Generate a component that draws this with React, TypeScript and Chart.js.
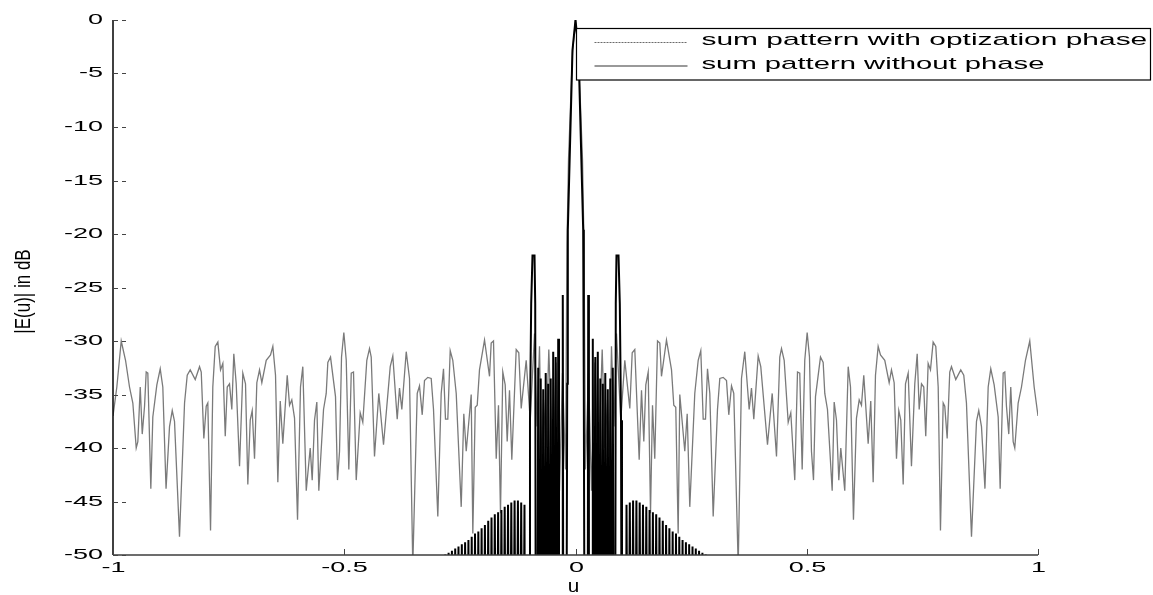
import React, { useEffect, useRef } from 'react';
import { Chart, registerables } from 'chart.js';

Chart.register(...registerables);

const xTickValues = [-1, -0.5, 0, 0.5, 1];
const xTickLabels = ['-1', '-0.5', '0', '0.5', '1'];
const yTickValues = [0, -5, -10, -15, -20, -25, -30, -35, -40, -45, -50];
const yTickLabels = ['0', '-5', '-10', '-15', '-20', '-25', '-30', '-35', '-40', '-45', '-50'];
const xAxisTitle = 'u';
const yAxisTitle = '|E(u)| in dB';
const seriesLabels = ['sum pattern with optization phase', 'sum pattern without phase'];

// Values read for u >= 0; the plotted pattern is symmetric about u = 0.
const optimizedU = [
  0, 0.0065, 0.0151, 0.0184, 0.0216, 0.0281, 0.0346, 0.0422, 0.0486, 0.0577,
  0.0638, 0.0692, 0.0735, 0.0778, 0.0832, 0.0886, 0.0979, 0.1066, 0.1174, 0.1226,
  0.1282, 0.1377, 0.1427, 0.1477, 0.152, 0.1572, 0.1622, 0.1665, 0.1714, 0.1773,
  0.1823, 0.1859, 0.1967, 0.2076, 0.2125, 0.2168, 0.222, 0.2255, 0.2363, 0.2415,
  0.2471, 0.2579, 0.2653, 0.2709, 0.2761, 0.2811, 0.2854, 0.2904, 0.2977, 0.307,
  0.312, 0.3193, 0.3265, 0.3314, 0.3373, 0.3422, 0.3518, 0.3589, 0.366, 0.3755,
  0.3805, 0.3855, 0.395, 0.4006, 0.4151, 0.4253, 0.4346, 0.4417, 0.4454, 0.4512,
  0.4599, 0.4655, 0.4741, 0.48, 0.4849, 0.4901, 0.4957, 0.5009, 0.5059, 0.5102,
  0.5146, 0.5189, 0.5297, 0.5355, 0.539, 0.5448, 0.555, 0.5593, 0.5643, 0.5693,
  0.5736, 0.5822, 0.5896, 0.5946, 0.601, 0.6075, 0.6134, 0.6183, 0.6233, 0.6328,
  0.6384, 0.6436, 0.6486, 0.6544, 0.6594, 0.6687, 0.6782, 0.6832, 0.689, 0.694,
  0.699, 0.7033, 0.7085, 0.7135, 0.7193, 0.7264, 0.7336, 0.7388, 0.7431, 0.7481,
  0.753, 0.7573, 0.7625, 0.7675, 0.7733, 0.779, 0.7842, 0.7891, 0.795, 0.7984,
  0.8036, 0.8092, 0.8129, 0.8222, 0.833, 0.8395, 0.8453, 0.8562, 0.867, 0.8719,
  0.8778, 0.8853, 0.8923, 0.8979, 0.9052, 0.9139, 0.9182, 0.9247, 0.9282, 0.9318,
  0.9368, 0.9411, 0.9463, 0.9498, 0.9571, 0.9643, 0.9729, 0.9822, 0.9917, 1.0,
];
const optimizedDb = [
  0, -3, -13, -21, -42, -33, -44, -32, -43, -30.8,
  -40, -35.5, -42, -30.5, -38, -29.3, -37.4, -31.8, -36.3, -31.1,
  -30.8, -41.1, -34.6, -39.4, -34.1, -32.9, -46.1, -36.0, -41.0, -30.0,
  -30.2, -33.3, -29.9, -32.7, -36.0, -36.2, -48.0, -35.0, -40.3, -36.8,
  -45.5, -34.9, -31.8, -30.9, -37.3, -37.3, -32.6, -34.9, -46.4, -36.4,
  -33.5, -33.4, -33.7, -36.9, -34.2, -34.9, -51, -33.5, -31.0, -36.4,
  -34.4, -37.3, -31.4, -32.4, -39.7, -34.9, -40.8, -31.5, -30.7, -31.8,
  -37.6, -36.7, -43, -32.9, -33.0, -42, -31.8, -29.2, -31.5, -40.3,
  -43, -35.2, -31.5, -32.0, -34.9, -36.4, -44, -35.7, -37.4, -43,
  -40.0, -44, -32.4, -34.3, -46.7, -37.2, -35.5, -36.0, -33.2, -39.6,
  -35.6, -43.2, -33.2, -30.5, -31.3, -31.8, -33.9, -32.7, -33.9, -41.0,
  -36.5, -37.4, -43.4, -34.0, -33.0, -41.7, -34.0, -31.2, -36.4, -34.0,
  -34.3, -38.9, -32.1, -32.7, -30.1, -30.5, -34.3, -47.7, -35.8, -36.1,
  -39.1, -32.9, -32.4, -33.6, -32.7, -33.2, -35.8, -48.3, -37.5, -36.5,
  -38.0, -43.8, -34.3, -32.6, -34.1, -37.1, -43.8, -33.0, -32.9, -36.1,
  -38.7, -34.3, -39.4, -40.0, -35.8, -34.3, -31.8, -30.0, -34.3, -37.0,
];

const plainU = [
  0, 0.0065, 0.0166, 0.0179, 0.0205, 0.0259, 0.0275, 0.029, 0.0357, 0.0374,
  0.0389, 0.0428, 0.0455, 0.0482, 0.0509, 0.0536, 0.0563, 0.059, 0.0617, 0.0644,
  0.0671, 0.0698, 0.0725, 0.0752, 0.0779, 0.0806, 0.0832, 0.0854, 0.0871, 0.0886,
  0.093, 0.0958, 0.0984, 0.1005, 0.1085,
  0.1103, 0.1138, 0.1174, 0.121, 0.1245, 0.1281, 0.1317, 0.1352, 0.1388, 0.1424,
  0.1459, 0.1495, 0.1531, 0.1566, 0.1602, 0.1638, 0.1673, 0.1709, 0.1745, 0.178,
  0.1816, 0.1852, 0.1887, 0.1923, 0.1959, 0.1994, 0.203, 0.2066, 0.2101, 0.2137,
  0.2173, 0.2208, 0.2244, 0.228, 0.2315, 0.2351, 0.2387, 0.2422, 0.2458, 0.2494,
  0.253, 0.2565, 0.2601, 0.2637, 0.2672, 0.2708, 0.2744, 0.2779, 0.2815, 0.2851,
  0.4,
];
const plainDb = [
  0, -2.8, -19.6, -34, -75, -75, -25.7, -75, -75, -29.8,
  -75, -31.5, -75, -31, -75, -33.5, -75, -34, -75, -33,
  -75, -34.5, -75, -33.5, -75, -32.5, -75, -75, -26.5, -22,
  -22, -26.5, -37.4, -75, -75,
  -45.3, -75, -45.1, -75, -44.9, -75, -44.9, -75, -45.1, -75,
  -45.3, -75, -45.5, -75, -45.8, -75, -46.0, -75, -46.2, -75,
  -46.5, -75, -46.8, -75, -47.2, -75, -47.5, -75, -47.8, -75,
  -48.0, -75, -48.3, -75, -48.6, -75, -48.8, -75, -49.0, -75,
  -49.2, -75, -49.4, -75, -49.6, -75, -49.8, -75, -49.95, -75,
  -75,
];

function symmetricPoints(us: number[], vals: number[]) {
  const pts: { x: number; y: number }[] = [];
  for (let i = us.length - 1; i >= 1; i--) pts.push({ x: -us[i], y: vals[i] });
  for (let i = 0; i < us.length; i++) pts.push({ x: us[i], y: vals[i] });
  return pts;
}

const FONT = '"Liberation Sans", Arial, Helvetica, sans-serif';

function stretchText(
  ctx: CanvasRenderingContext2D,
  text: string,
  x: number,
  y: number,
  align: CanvasTextAlign,
  size: number,
  sx: number,
) {
  ctx.save();
  ctx.font = `${size}px ${FONT}`;
  ctx.textBaseline = 'alphabetic';
  ctx.textAlign = align;
  ctx.fillStyle = '#000';
  ctx.translate(x, y);
  ctx.scale(sx, 1);
  ctx.fillText(text, 0, 0);
  ctx.restore();
}

const decorPlugin = {
  id: 'matlabDecor',
  afterDraw(chart: any) {
    const ctx: CanvasRenderingContext2D = chart.ctx;
    const { left, right, top, bottom } = chart.chartArea;
    const xs = chart.scales.x;
    const ys = chart.scales.y;

    ctx.save();
    // axes
    ctx.lineWidth = 1.5;
    ctx.strokeStyle = '#000';
    ctx.beginPath();
    ctx.moveTo(left, top);
    ctx.lineTo(left, bottom);
    ctx.stroke();
    ctx.strokeStyle = '#3c3c3c';
    ctx.beginPath();
    ctx.moveTo(left, bottom);
    ctx.lineTo(right, bottom);
    ctx.stroke();

    // y ticks
    ctx.lineWidth = 1;
    ctx.strokeStyle = '#444';
    yTickValues.forEach((v, i) => {
      const py = Math.round(ys.getPixelForValue(v)) + 0.5;
      ctx.save();
      ctx.setLineDash([5, 4]);
      ctx.beginPath();
      ctx.moveTo(left, py);
      ctx.lineTo(left + 13, py);
      ctx.stroke();
      ctx.restore();
      stretchText(ctx, yTickLabels[i], left - 10, py + 3.5, 'right', 15, 1.8);
    });

    // x ticks
    xTickValues.forEach((v, i) => {
      const px = Math.round(xs.getPixelForValue(v)) + 0.5;
      ctx.beginPath();
      ctx.moveTo(px, bottom);
      ctx.lineTo(px, bottom - 6);
      ctx.stroke();
      stretchText(ctx, xTickLabels[i], px, bottom + 16.5, 'center', 15, 1.8);
    });

    // axis titles
    stretchText(ctx, xAxisTitle, (left + right) / 2 - 2, bottom + 37, 'center', 18, 1.15);
    ctx.save();
    ctx.translate(24.5, (top + bottom) / 2 + 4);
    ctx.rotate(-Math.PI / 2);
    ctx.scale(1, 1.25);
    ctx.font = `17px ${FONT}`;
    ctx.textAlign = 'center';
    ctx.textBaseline = 'middle';
    ctx.fillStyle = '#000';
    ctx.fillText(yAxisTitle, 0, 0);
    ctx.restore();

    // legend box
    const lx = Math.round(xs.getPixelForValue(0)) + 0.5;
    const ly = top + 8.5;
    const lr = chart.width - 2.5;
    const lb = top + 60;
    ctx.fillStyle = '#fff';
    ctx.fillRect(lx, ly, lr - lx, lb - ly);
    ctx.lineWidth = 1.2;
    ctx.strokeStyle = '#000';
    ctx.strokeRect(lx, ly, lr - lx, lb - ly);

    // legend entries
    const sampleX0 = lx + 18;
    const sampleX1 = lx + 111;
    const textX = lx + 125;
    ctx.save();
    ctx.strokeStyle = '#6a6a6a';
    ctx.lineWidth = 1;
    ctx.setLineDash([2, 1]);
    ctx.beginPath();
    ctx.moveTo(sampleX0, Math.round(ly + 13) + 0.5);
    ctx.lineTo(sampleX1, Math.round(ly + 13) + 0.5);
    ctx.stroke();
    ctx.restore();
    ctx.save();
    ctx.strokeStyle = '#999';
    ctx.lineWidth = 2;
    ctx.beginPath();
    ctx.moveTo(sampleX0, Math.round(ly + 37));
    ctx.lineTo(sampleX1, Math.round(ly + 37));
    ctx.stroke();
    ctx.restore();
    stretchText(ctx, seriesLabels[0], textX, ly + 16.5, 'left', 17, 1.76);
    stretchText(ctx, seriesLabels[1], textX, ly + 40, 'left', 17, 1.72);

    ctx.restore();
  },
};

export default function App() {
  const canvasRef = useRef<HTMLCanvasElement | null>(null);

  useEffect(() => {
    const canvas = canvasRef.current;
    if (!canvas) return;
    const chart = new Chart(canvas, {
      type: 'line',
      data: {
        datasets: [
          {
            label: seriesLabels[1],
            data: symmetricPoints(plainU, plainDb),
            borderColor: '#000',
            borderWidth: 2,
            pointRadius: 0,
            tension: 0,
            fill: false,
            order: 0,
          },
          {
            label: seriesLabels[0],
            data: symmetricPoints(optimizedU, optimizedDb),
            borderColor: '#7a7a7a',
            borderWidth: 1.3,
            pointRadius: 0,
            tension: 0,
            fill: false,
            order: 1,
          },
        ],
      },
      options: {
        animation: false,
        responsive: false,
        maintainAspectRatio: false,
        devicePixelRatio: 1,
        parsing: false,
        layout: { padding: { left: 113, right: 115, top: 20, bottom: 40 } },
        plugins: {
          legend: { display: false },
          tooltip: { enabled: false },
          title: { display: false },
        },
        scales: {
          x: { type: 'linear', min: -1, max: 1, display: false },
          y: { type: 'linear', min: -50, max: 0, display: false },
        },
      },
      plugins: [decorPlugin],
    } as any);
    return () => chart.destroy();
  }, []);

  return (
    <div style={{ position: 'fixed', left: 0, top: 0, width: 1153, height: 595, background: '#fff' }}>
      <canvas ref={canvasRef} width={1153} height={595} style={{ width: 1153, height: 595, display: 'block' }} />
    </div>
  );
}
